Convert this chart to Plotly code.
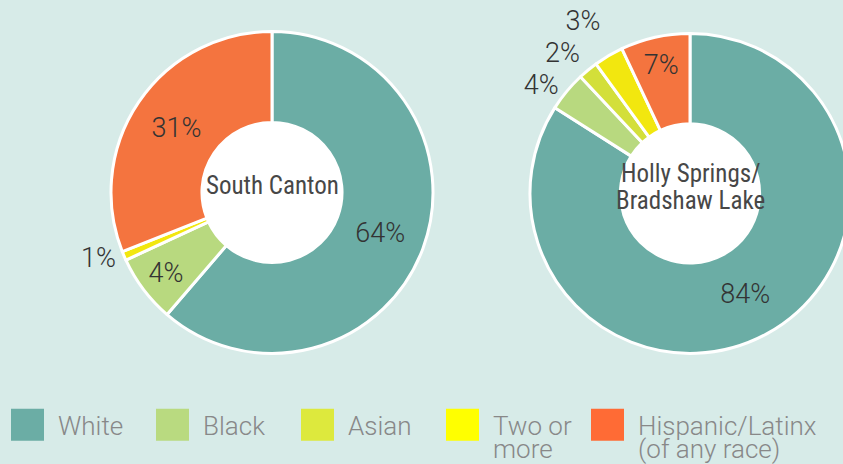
"""Race / ethnicity donuts for South Canton and Holly Springs / Bradshaw Lake."""

import plotly.graph_objects as go

# the right donut runs off the edge of the 843px window, so the figure is a bit wider
W, H = 870, 464
HOLE = 0.435

LEGEND_TEXT = ["White", "Black", "Asian", "Two or<br>more", "Hispanic/Latinx<br>(of any race)"]
LEGEND_COLORS = ["#6badA5", "#b9da80", "#dde93d", "#ffff00", "#ff6b35"]
SLICE_COLORS = {
    "White": "#6badA5",
    "Black": "#b8d97f",
    "Asian": "#d3df3a",
    "Two or more": "#f2e70f",
    "Hispanic/Latinx": "#f4743f",
}

# South Canton: slice sizes as drawn, and the percentages printed on them
south_canton_cats = ["White", "Black", "Two or more", "Hispanic/Latinx"]
south_canton_share = [61.3, 6.8, 0.9, 31.0]
south_canton_label = [64, 4, 1, 31]

# Holly Springs / Bradshaw Lake
holly_cats = ["White", "Black", "Asian", "Two or more", "Hispanic/Latinx"]
holly_share = [84, 4, 2, 3, 7]
holly_label = [84, 4, 2, 3, 7]

BG = "#d7ebe8"
PCT_COLOR = "#333333"
PCT_FONT = dict(family="Roboto", size=27, weight=300)
TITLE_FONT = dict(family="Roboto Condensed, DejaVu Sans Condensed, Roboto", size=25, color="#474747")

shapes, annotations = [], []


def donut(cats, share, label, title, cx, cy, r, positions):
    # white disc behind the hole, and the area name on top of it
    shapes.append(dict(type="circle", xref="paper", yref="paper", layer="below",
                       x0=(cx - HOLE * r) / W, x1=(cx + HOLE * r) / W,
                       y0=(H - cy - HOLE * r) / H, y1=(H - cy + HOLE * r) / H,
                       fillcolor="white", line=dict(width=0)))
    lines = title.split("<br>")
    for j, line in enumerate(lines):
        ty = cy - 7 + 28 * (j - (len(lines) - 1) / 2)
        annotations.append(dict(text=line, xref="paper", yref="paper", x=cx / W, y=(H - ty) / H,
                                xanchor="center", yanchor="middle", showarrow=False, font=TITLE_FONT))
    # text colour lives in a span so the (transparent) outside-text colour hides leader lines
    return go.Pie(
        labels=cats,
        values=share,
        text=[f'<span style="color:{PCT_COLOR};fill-opacity:1">{v}%</span>' for v in label],
        textinfo="text",
        textposition=positions,
        insidetextorientation="horizontal",
        textfont=dict(PCT_FONT, color=PCT_COLOR),
        outsidetextfont=dict(PCT_FONT, color="rgba(51,51,51,0)"),
        hole=HOLE,
        sort=False,
        direction="clockwise",
        rotation=0,
        marker=dict(colors=[SLICE_COLORS[c] for c in cats], line=dict(color="white", width=3)),
        domain=dict(x=[(cx - r) / W, (cx + r) / W], y=[(H - cy - r) / H, (H - cy + r) / H]),
        showlegend=False,
        hoverinfo="label+text",
    )


fig = go.Figure()
fig.add_trace(donut(south_canton_cats, south_canton_share, south_canton_label, "South Canton",
                    272, 184, 166, ["inside", "inside", "outside", "inside"]))
fig.add_trace(donut(holly_cats, holly_share, holly_label, "Holly Springs/<br>Bradshaw Lake",
                    690, 185, 165, ["inside", "outside", "outside", "outside", "inside"]))

# hand-made legend along the bottom
for i, (txt, col) in enumerate(zip(LEGEND_TEXT, LEGEND_COLORS)):
    x0 = 11 + i * 145
    shapes.append(dict(type="rect", xref="paper", yref="paper",
                       x0=x0 / W, x1=(x0 + 33) / W, y0=(H - 440) / H, y1=(H - 407) / H,
                       fillcolor=col, line=dict(width=0)))
    for j, line in enumerate(txt.split("<br>")):
        annotations.append(dict(text=line, xref="paper", yref="paper",
                                x=(x0 + 45) / W, y=(H - 425 - 24 * j) / H,
                                xanchor="left", yanchor="middle", align="left", showarrow=False,
                                font=dict(family="Roboto", size=26, color="#888888", weight=300)))

fig.update_layout(
    width=W,
    height=H,
    margin=dict(l=0, r=0, t=0, b=0),
    paper_bgcolor=BG,
    plot_bgcolor=BG,
    shapes=shapes,
    annotations=annotations,
    uniformtext=dict(minsize=27, mode="show"),
)

page_css = (
    "document.body.style.margin='0';"
    "document.body.style.background='%s';"
    "document.body.style.overflow='hidden';"
    "document.documentElement.style.overflow='hidden';" % BG
)
fig.write_html("out.html", post_script=page_css, config={"displayModeBar": False})
